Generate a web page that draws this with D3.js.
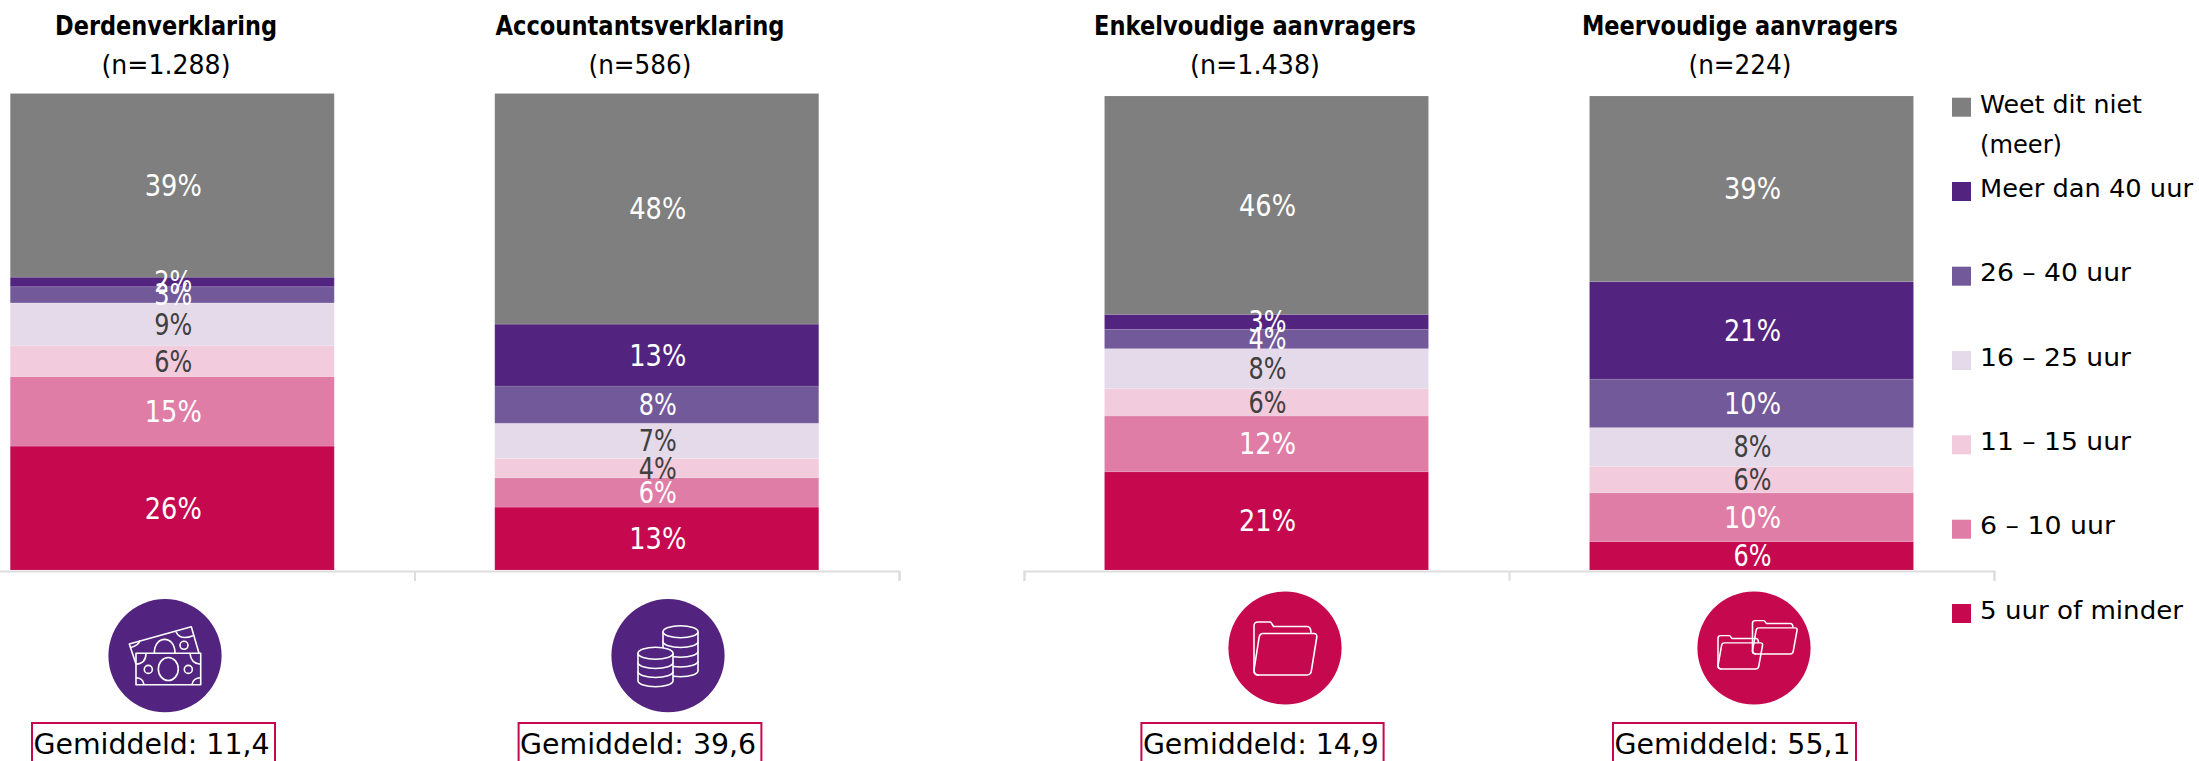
<!DOCTYPE html>
<html><head><meta charset="utf-8">
<script src="https://cdn.jsdelivr.net/npm/d3@7"></script>
<style>
html,body{margin:0;padding:0;background:#fff;overflow:hidden}
svg{display:block}
text{font-family:"DejaVu Sans",sans-serif}
</style></head><body>
<script>
const seriesNames = ["5 uur of minder","6 – 10 uur","11 – 15 uur","16 – 25 uur","26 – 40 uur","Meer dan 40 uur","Weet dit niet (meer)"];
const seriesColors = ["#C6084F","#DF7DA7","#F2CBDC","#E5DAEA","#725999","#52247F","#7F7F7F"];
const labelColors = ["#fff","#fff","#404040","#404040","#fff","#fff","#fff"];

const categories = ["Derdenverklaring","Accountantsverklaring","Enkelvoudige aanvragers","Meervoudige aanvragers"];
const sampleLabels = ["(n=1.288)","(n=586)","(n=1.438)","(n=224)"];
const averages = ["Gemiddeld: 11,4","Gemiddeld: 39,6","Gemiddeld: 14,9","Gemiddeld: 55,1"];

const derdenverklaring = [26.0,14.6,6.45,9.0,3.4,2.0,38.55];
const accountantsverklaring = [13.2,6.15,4.05,7.4,7.8,13.0,48.4];
const enkelvoudig = [20.74,11.75,5.76,8.45,4.07,3.16,46.07];
const meervoudig = [6.0,10.3,5.55,8.2,10.2,20.6,39.15];
const allValues = [derdenverklaring,accountantsverklaring,enkelvoudig,meervoudig];

const W=2199,H=761;
const svg=d3.select("body").append("svg").attr("width",W).attr("height",H);

function fitText(sel,len){ sel.attr("textLength",len).attr("lengthAdjust","spacingAndGlyphs"); return sel; }

function folder(sel){
  sel.append("path").attr("d","M-26,27 Q-31,27 -31,22 L-31,-22 Q-31,-26 -27,-26 L-15,-26 Q-14,-26 -13,-24 L-11.5,-21.5 L22,-21.5 Q26,-21.5 26,-15");
  sel.append("path").attr("d","M-22,-14.5 L29,-14.5 Q32,-14.5 31.8,-11 L26.5,22 Q26,27 22,27 L-27,27 Q-31,27 -31,22 L-26,-10 Q-25.5,-14.5 -22,-14.5 Z");
}
function icons_money(s){
  s.append("path").attr("d","M-29,8.3 L-35.7,-11.7 L26.3,-29 L34,-2.4");
  s.append("path").attr("d","M-10.7,-2.4 C-10.7,-21 10,-21 10,-2.4");
  s.append("circle").attr("cx",19).attr("cy",-10.4).attr("r",4);
  s.append("path").attr("d","M11,-24 Q15,-15 28,-20");
  s.append("path").attr("d","M-35,-8 Q-26,-10 -25,-15.5");
  s.append("path").attr("d","M-29,-2.4 H35.7 V29 H-29 Z").attr("fill","#52247F");
  s.append("ellipse").attr("cx",3.3).attr("cy",13.3).attr("rx",10).attr("ry",11.5);
  s.append("circle").attr("cx",-16.7).attr("cy",13.7).attr("r",4);
  s.append("circle").attr("cx",23.3).attr("cy",13.7).attr("r",4);
  s.append("path").attr("d","M-29,8.5 Q-19,8 -19,-2.4");
  s.append("path").attr("d","M35.7,8.5 Q26,8 25,-2.4");
  s.append("path").attr("d","M-29,22 Q-22,22 -21,29");
  s.append("path").attr("d","M35.7,22 Q28,22 27,29");
}
function coinStack(s,x0,yTop,yBot,n){
  const rx=17.5,ry=6;
  const step=(yBot-yTop)/n;
  s.append("path").attr("d",`M${x0-rx},${yTop} V${yBot} A${rx},${ry} 0 0 0 ${x0+rx},${yBot} V${yTop}`).attr("fill","#52247F");
  s.append("ellipse").attr("cx",x0).attr("cy",yTop).attr("rx",rx).attr("ry",ry).attr("fill","#52247F");
  for(let i=1;i<n;i++) s.append("path").attr("d",`M${x0-rx},${yTop+step*i} A${rx},${ry} 0 0 0 ${x0+rx},${yTop+step*i}`);
}
function icons_coins(s){ coinStack(s,12.5,-24,15,4); coinStack(s,-12.5,-2.4,25,3); }
function icons_folder(s){ folder(s); }
function icons_folders(s){
  folder(s.append("g").attr("transform","translate(20.5,-11) scale(.71,.63)").attr("stroke-width",2.2));
  folder(s.append("g").attr("transform","translate(-14,4) scale(.71,.63)").attr("stroke-width",2.2));
}
const icons=[icons_money,icons_coins,icons_folder,icons_folders];

const groups=[
  {cats:[0,1],range:[-70,899],top:93.5,titleX:[166,640],titleW:[222,289],nW:[129,103],iconX:[165,668],iconY:655.7,iconC:"#52247F",boxX:[[32,275],[518.6,761.4]]},
  {cats:[2,3],range:[1024,1994],top:96,titleX:[1255,1740],titleW:[322,316],nW:[130,103],iconX:[1285,1754],iconY:648,iconC:"#C6084F",boxX:[[1141.4,1383.6],[1613,1856]]}
];
const base=570;

groups.forEach(g=>{
  const x=d3.scaleBand().domain(g.cats).range(g.range);
  const y=d3.scaleLinear().domain([0,100]).range([base,g.top]);
  const barW=324;
  const stack=d3.stack().keys(d3.range(7)).value((d,k)=>allValues[d][k])(g.cats);
  const gBars=svg.append("g");
  stack.forEach((layer,k)=>{
    layer.forEach(seg=>{
      const c=seg.data, cx=x(c)+x.bandwidth()/2;
      gBars.append("rect").attr("x",cx-barW/2).attr("width",barW)
        .attr("y",y(seg[1])).attr("height",y(seg[0])-y(seg[1]))
        .attr("fill",seriesColors[k]).attr("stroke","#fff").attr("stroke-opacity",.1).attr("stroke-width",1);
    });
  });
  stack.forEach((layer,k)=>{
    layer.forEach(seg=>{
      const c=seg.data, cx=x(c)+x.bandwidth()/2, v=allValues[c][k];
      const t=gBars.append("text").attr("x",cx+1).attr("y",(y(seg[0])+y(seg[1]))/2+10.5)
        .attr("text-anchor","middle").attr("font-size",30).attr("fill",labelColors[k]).text(Math.round(v)+"%");
      fitText(t,Math.round(v)>=10?57:38);
    });
  });
  // axis with ticks on the category edges
  const edges=d3.scaleLinear().domain(g.range).range(g.range);
  const ax=d3.axisBottom(edges).tickValues(g.range.concat([x(g.cats[1])]).filter(v=>v>0)).tickSize(10).tickFormat("");
  const axG=svg.append("g").attr("transform","translate(0,571)").call(ax);
  axG.selectAll("path,line").attr("stroke","#DDDDDD").attr("stroke-width",2);

  g.cats.forEach((c,i)=>{
    fitText(svg.append("text").attr("x",g.titleX[i]).attr("y",34.5).attr("text-anchor","middle")
      .attr("font-size",26.5).attr("font-weight","bold").attr("fill","#000").text(categories[c]),g.titleW[i]);
    fitText(svg.append("text").attr("x",g.titleX[i]).attr("y",74).attr("text-anchor","middle")
      .attr("font-size",26).attr("fill","#000").text(sampleLabels[c]),g.nW[i]);
    const ig=svg.append("g").attr("transform",`translate(${g.iconX[i]},${g.iconY})`);
    ig.append("circle").attr("r",56.6).attr("fill",g.iconC);
    const ic=ig.append("g").attr("fill","none").attr("stroke","#fff").attr("stroke-width",1.6).attr("stroke-linejoin","round");
    icons[c](ic);
    const [x0,x1]=g.boxX[i];
    svg.append("rect").attr("x",x0).attr("y",723).attr("width",x1-x0).attr("height",60)
      .attr("fill","#fff").attr("stroke","#C6084F").attr("stroke-width",2);
    fitText(svg.append("text").attr("x",x0+1.5).attr("y",753.5)
      .attr("font-size",28.5).attr("fill","#000").text(averages[c]),236);
  });
});

// legend
const legendRows=[
 {k:6,y:97.7,lines:[["Weet dit niet",112.7,162],["(meer)",153,82]]},
 {k:5,y:182,lines:[["Meer dan 40 uur",196.7,213]]},
 {k:4,y:266.7,lines:[["26 – 40 uur",281,151]]},
 {k:3,y:351,lines:[["16 – 25 uur",366,151]]},
 {k:2,y:435.3,lines:[["11 – 15 uur",450,151]]},
 {k:1,y:519.7,lines:[["6 – 10 uur",534,135]]},
 {k:0,y:604,lines:[["5 uur of minder",618.5,203]]}
];
legendRows.forEach(r=>{
  svg.append("rect").attr("x",1952).attr("y",r.y).attr("width",19).attr("height",19).attr("fill",seriesColors[r.k]);
  r.lines.forEach(l=>fitText(svg.append("text").attr("x",1980).attr("y",l[1]).attr("font-size",24).attr("fill","#000").text(l[0]),l[2]));
});
</script>
</body></html>
